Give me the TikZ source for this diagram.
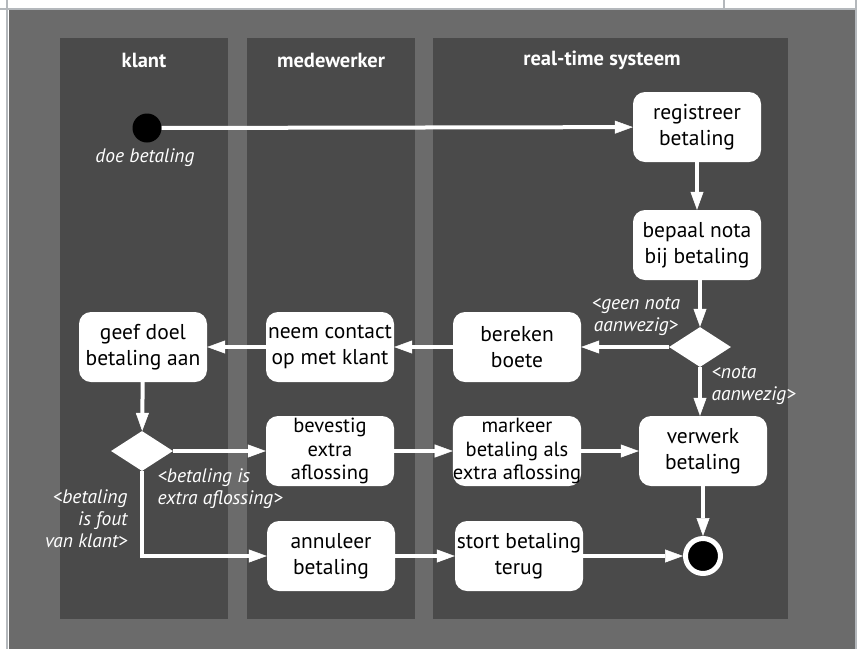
\documentclass[tikz,border=0pt]{standalone}
\usepackage{fontspec}
\setmainfont{PT Sans}
\usetikzlibrary{arrows.meta,shapes.geometric}

\definecolor{bgGray}{HTML}{6B6B6B}
\definecolor{laneGray}{HTML}{4A4A4A}
\definecolor{frameGray}{HTML}{B4B8BC}

\begin{document}
\begin{tikzpicture}[x=1pt, y=-1pt, >={Triangle[length=18pt, width=13pt, line width=0.5pt]},
	every node/.style={font=\fontsize{21.5}{26}\selectfont},
	lane/.style={fill=laneGray},
	laneTitle/.style={text=white, font=\fontsize{20.5}{24}\selectfont\bfseries},
	activity/.style={fill=white, rounded corners=12pt, minimum width=128pt, minimum height=70pt, align=center, inner sep=0pt},
	tight/.style={font=\fontsize{20.5}{23.5}\selectfont},
	choice/.style={diamond, fill=white, minimum width=62pt, minimum height=40pt, inner sep=0pt},
	guard/.style={text=white, font=\fontsize{19.5}{22}\selectfont\itshape},
	flow/.style={->, draw=white, line width=4pt}]
	\useasboundingbox (0,0) rectangle (857,649);
	\fill[white] (0,0) rectangle (857,649);
	\fill[bgGray] (9,10) rectangle (855,649);
	\draw[frameGray, line width=2pt] (0,9) -- (857,9);
	\draw[frameGray, line width=2.5pt] (7,0) -- (7,649);
	\draw[frameGray, line width=2pt] (724,0) -- (724,9);
	\draw[frameGray, line width=1.5pt] (856,0) -- (856,649);
	\fill[lane] (60,38) rectangle (228,619);
	\fill[lane] (247,38) rectangle (415,619);
	\fill[lane] (433,38) rectangle (788,619);
	\node[laneTitle] (klantTitle) at (144,60) {klant};
	\node[laneTitle] (medewerkerTitle) at (331,60) {medewerker};
	\node[laneTitle] (systeemTitle) at (602,60) {real-time systeem};
	\node[circle, fill=black, minimum size=29pt, inner sep=0pt] (start) at (147,128) {};
	\node[guard] (doeBetaling) at (145,158) {doe betaling};
	\node[activity] (registreer) at (697,127) {registreer\\betaling};
	\node[activity] (bepaal) at (697,245) {bepaal nota\\bij betaling};
	\node[choice] (diam1) at (700,347) {};
	\node[activity] (bereken) at (517,347) {bereken\\boete};
	\node[activity] (neem) at (330,347) {neem contact\\op met klant};
	\node[activity] (geef) at (143,347) {geef doel\\betaling aan};
	\node[choice] (diam2) at (142,451) {};
	\node[activity, tight] (bevestig) at (330,451) {bevestig\\extra\\aflossing};
	\node[activity, tight] (markeer) at (517,451) {markeer\\betaling als\\extra aflossing};
	\node[activity] (verwerk) at (703,451) {verwerk\\betaling};
	\node[activity] (annuleer) at (331,556) {annuleer\\betaling};
	\node[activity] (stort) at (519,556) {stort betaling\\terug};
	\node[circle, fill=black, draw=white, line width=5pt, minimum size=35pt, inner sep=0pt] (eind) at (703,556) {};
	\node[guard, align=center] (geenNota) at (636,316) {<geen nota\\aanwezig>};
	\node[guard, align=left, anchor=north west] (notaAanwezig) at (708,363) {<nota\\aanwezig>};
	\node[guard, align=left, anchor=north west] (extraGuard) at (154,465) {<betaling is\\extra aflossing>};
	\node[guard, align=right, anchor=north east] (foutGuard) at (131,486) {<betaling\\is fout\\van klant>};
	\draw[flow] (start) -- (registreer);
	\draw[flow] (registreer) -- (bepaal);
	\draw[flow] (bepaal.south -| diam1) -- (diam1);
	\draw[flow] (diam1) -- (bereken);
	\draw[flow] (diam1) -- (diam1 |- verwerk.north);
	\draw[flow] (bereken) -- (neem);
	\draw[flow] (neem) -- (geef);
	\draw[flow] (geef) -- (diam2);
	\draw[flow] (diam2) -- (bevestig);
	\draw[flow] (diam2) |- (annuleer);
	\draw[flow] (bevestig) -- (markeer);
	\draw[flow] (markeer) -- (verwerk);
	\draw[flow] (annuleer) -- (stort);
	\draw[flow] (stort) -- (eind);
	\draw[flow] (verwerk) -- (eind);
\end{tikzpicture}
\end{document}
